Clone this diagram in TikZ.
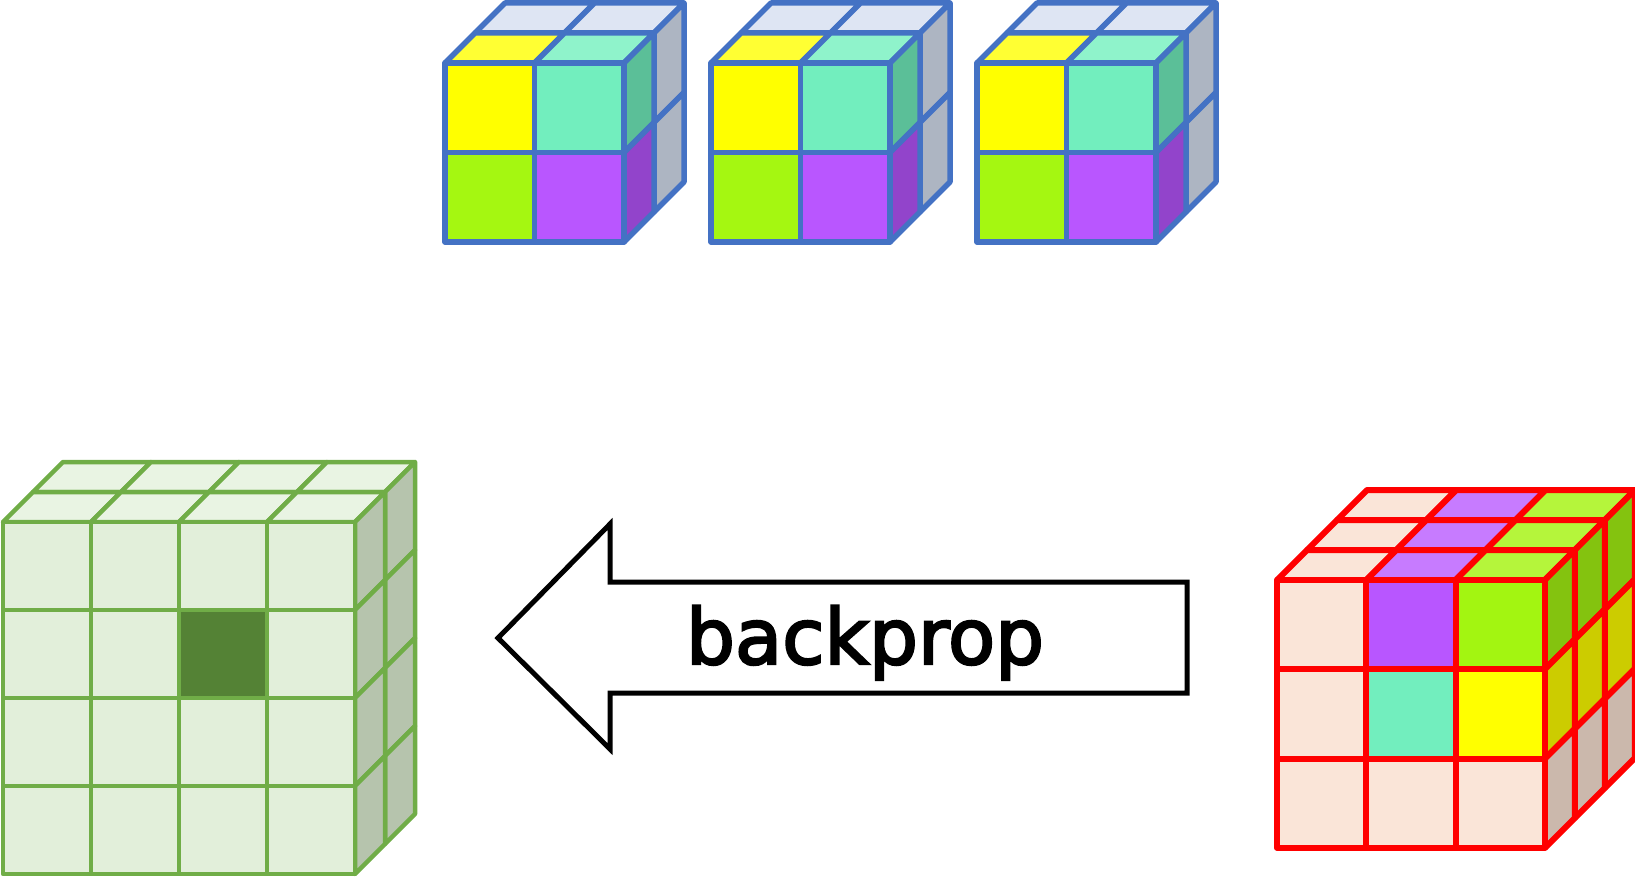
\documentclass[tikz,border=0pt]{standalone}
\usepackage{fontspec}
\setmainfont{DejaVu Sans}
\newfontfamily\bpfont[FakeBold=3]{DejaVu Sans}
\usetikzlibrary{positioning}

% kernel colours (blue cubes)
\definecolor{kline}{HTML}{4472C4}
\definecolor{kyellow}{HTML}{FFFF00}
\definecolor{kyellowtop}{HTML}{FFFF33}
\definecolor{kteal}{HTML}{72EEBE}
\definecolor{ktealtop}{HTML}{8FF3CB}
\definecolor{ktealside}{HTML}{5BBF98}
\definecolor{klime}{HTML}{A5F711}
\definecolor{kpurple}{HTML}{B956FF}
\definecolor{kpurpleside}{HTML}{9244CB}
\definecolor{kbacktop}{HTML}{DEE5F3}
\definecolor{kbackside}{HTML}{ADB5C2}
% input colours (green cube)
\definecolor{gline}{HTML}{70AD47}
\definecolor{gfront}{HTML}{E2EFDA}
\definecolor{gtop}{HTML}{E9F4E3}
\definecolor{gside}{HTML}{B6C4AD}
\definecolor{gdark}{HTML}{548235}
% output colours (red cube)
\definecolor{rline}{HTML}{FF0000}
\definecolor{rpeach}{HTML}{FAE5D8}
\definecolor{rpeachside}{HTML}{CBB8AC}
\definecolor{rpurple}{HTML}{B856FF}
\definecolor{rpurpletop}{HTML}{C77BFF}
\definecolor{rlime}{HTML}{A3F511}
\definecolor{rlimetop}{HTML}{B5F53B}
\definecolor{rlimeside}{HTML}{84C30F}
\definecolor{rteal}{HTML}{72EEBE}
\definecolor{ryellow}{HTML}{FFFF00}
\definecolor{ryellowside}{HTML}{CCCC00}

% one cell of a cube: front square, top and right-hand faces
\newcommand{\cellsz}{89}
\newcommand{\dep}{30}
\newcommand{\frontcell}[3]{\draw[fill=#3] (#1,#2) rectangle ++(\cellsz,\cellsz);}
\newcommand{\topcell}[3]{\draw[fill=#3] (#1,#2) -- ++(\cellsz,0) -- ++(\dep,-\dep) -- ++(-\cellsz,0) -- cycle;}
\newcommand{\sidecell}[3]{\draw[fill=#3] (#1,#2) -- ++(0,\cellsz) -- ++(\dep,-\dep) -- ++(0,-\cellsz) -- cycle;}

\begin{document}
\begin{tikzpicture}[x=1pt, y=-1pt,
  kernel/.style={draw=kline, line width=5.5pt, line join=round},
  input/.style={draw=gline, line width=4.5pt, line join=round},
  output/.style={draw=rline, line width=6pt, line join=round},
  bigarrow/.style={draw=black, line width=5pt, fill=white, line join=miter},
  label/.style={anchor=base, font=\bpfont\fontsize{77}{90}\selectfont}]
  \useasboundingbox (0,0) rectangle (1635,877);

  % Kernels: 2x2x2, front slice coloured, back slice grey
  \renewcommand{\cellsz}{89.5}
  \foreach \x in {445,711,977} {
    \begin{scope}[shift={(\x,63)}, every path/.style={kernel}]
      \foreach \c in {0,1} {\topcell{30+\c*\cellsz}{-30}{kbacktop}}
      \foreach \r in {0,1} {\sidecell{30+2*\cellsz}{-30+\r*\cellsz}{kbackside}}
      \foreach \c/\col in {0/kyellowtop,1/ktealtop} {\topcell{\c*\cellsz}{0}{\col}}
      \foreach \r/\col in {0/ktealside,1/kpurpleside} {\sidecell{2*\cellsz}{\r*\cellsz}{\col}}
      \foreach \c/\r/\col in {0/0/kyellow,1/0/kteal,0/1/klime,1/1/kpurple} {\frontcell{\c*\cellsz}{\r*\cellsz}{\col}}
    \end{scope}
  }

  % Input: 4x4x2, one dark cell
  \renewcommand{\cellsz}{88}
  \begin{scope}[shift={(3,522)}, every path/.style={input}]
    \foreach \k in {1,0} {
      \foreach \c in {0,...,3} {\topcell{\k*30+\c*\cellsz}{-\k*30}{gtop}}
      \foreach \r in {0,...,3} {\sidecell{\k*30+4*\cellsz}{-\k*30+\r*\cellsz}{gside}}
    }
    \foreach \c in {0,...,3} {\foreach \r in {0,...,3} {\frontcell{\c*\cellsz}{\r*\cellsz}{gfront}}}
    \frontcell{2*\cellsz}{\cellsz}{gdark}
  \end{scope}

  % Output: 3x3x3, same pattern through every slice
  \renewcommand{\cellsz}{89.3}
  \begin{scope}[shift={(1277,580)}, every path/.style={output}]
    \foreach \k in {2,1,0} {
      \foreach \c/\col in {0/rpeach,1/rpurpletop,2/rlimetop} {\topcell{\k*30+\c*\cellsz}{-\k*30}{\col}}
      \foreach \r/\col in {0/rlimeside,1/ryellowside,2/rpeachside} {\sidecell{\k*30+3*\cellsz}{-\k*30+\r*\cellsz}{\col}}
    }
    \foreach \c/\r/\col in {0/0/rpeach,1/0/rpurple,2/0/rlime,0/1/rpeach,1/1/rteal,2/1/ryellow,0/2/rpeach,1/2/rpeach,2/2/rpeach} {\frontcell{\c*\cellsz}{\r*\cellsz}{\col}}
  \end{scope}

  % Block arrow pointing back to the input
  \draw[bigarrow] (498,638) -- (610,524) -- (610,582) -- (1187,582) -- (1187,693) -- (610,693) -- (610,749) -- cycle;
  \node[label] (bp) at (865,664) {backprop};
\end{tikzpicture}
\end{document}
